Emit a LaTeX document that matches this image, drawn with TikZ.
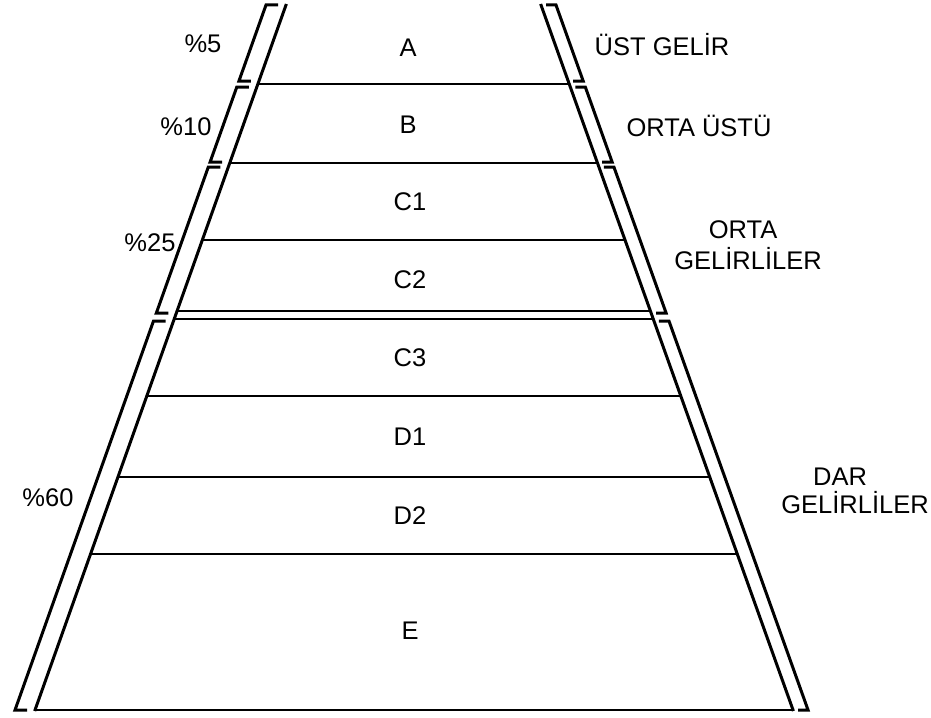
\documentclass[tikz,border=0pt]{standalone}
\usepackage{fontspec}
\setmainfont{Liberation Sans}
\begin{document}
\begin{tikzpicture}[x=1pt,y=-1pt,
  declare function={xl(\h)=286-0.356*(\h-5); xr(\h)=541+0.3575*(\h-5);},
  side/.style={line width=3pt},
  sep/.style={line width=2pt},
  brk/.style={line width=3pt, line join=miter},
  lbl/.style={font=\fontsize{25.5}{30}\selectfont, inner sep=0pt, anchor=center}]
\useasboundingbox[fill=white] (0,0) rectangle (931,717);
% trapezoid sides
\coordinate (TL) at ({xl(4)},4);
\coordinate (BL) at ({xl(711)},711);
\coordinate (TR) at ({xr(4)},4);
\coordinate (BR) at ({xr(711)},711);
\draw[side] (TL) -- (BL);
\draw[side] (TR) -- (BR);
% separators
\foreach \h in {84,163,240,311,319,396,477,554,710}
  \draw[sep] ({xl(\h)},\h) -- ({xr(\h)},\h);
% brackets
\foreach \t/\b in {5/81,87/162,167/313,321/710}{
  \draw[brk] ({xl(\t)-8},\t) -- ({xl(\t)-20},\t) -- ({xl(\b)-20},\b) -- ({xl(\b)-8},\b);
  \draw[brk] ({xr(\t)+5},\t) -- ({xr(\t)+15},\t) -- ({xr(\b)+15},\b) -- ({xr(\b)+5},\b);
}
% band letters
\node[lbl] (a)  at (408,48)  {A};
\node[lbl] (b)  at (408,125) {B};
\node[lbl] (c1) at (410,202) {C1};
\node[lbl] (c2) at (410,280) {C2};
\node[lbl] (c3) at (410,358) {C3};
\node[lbl] (d1) at (410,437) {D1};
\node[lbl] (d2) at (410,516) {D2};
\node[lbl] (e)  at (410,631) {E};
% left percentages
\node[lbl] (p5)  at (203,44)  {\%5};
\node[lbl] (p10) at (186,127) {\%10};
\node[lbl] (p25) at (150,243) {\%25};
\node[lbl] (p60) at (48,498)  {\%60};
% right labels
\node[lbl] (r1) at (662,45)  {ÜST GELİR};
\node[lbl] (r2) at (699,126) {ORTA ÜSTÜ};
\node[lbl] (r3a) at (743,230) {ORTA};
\node[lbl] (r3b) at (748,259) {GELİRLİLER};
\node[lbl] (r4a) at (840,477) {DAR};
\node[lbl] (r4b) at (855,503) {GELİRLİLER};
\end{tikzpicture}
\end{document}
